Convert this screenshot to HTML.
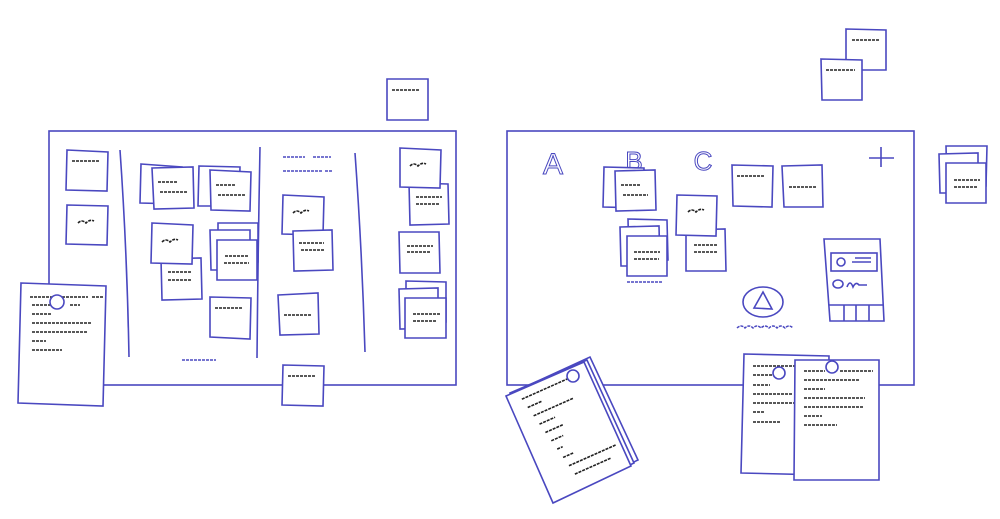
<!DOCTYPE html>
<html><head><meta charset="utf-8"><style>
html,body{margin:0;padding:0;background:#fff;width:1000px;height:519px;overflow:hidden}
svg{display:block}
.b{fill:#fff;stroke:#4a48c0;stroke-width:1.6}
.l{fill:none;stroke:#4a48c0;stroke-width:1.6}
.s{fill:none;stroke:#222;stroke-width:1.6;stroke-dasharray:3 1}
.sb{fill:none;stroke:#4a48c0;stroke-width:1.5;stroke-dasharray:3 1}
</style></head><body>
<svg width="1000" height="519" viewBox="0 0 1000 519" xmlns="http://www.w3.org/2000/svg">
<rect class="b" x="49" y="131" width="407" height="254"/>
<path class="l" d="M120 150 Q127 250 129 357"/>
<path class="l" d="M260 147 Q258 250 257 358"/>
<path class="l" d="M355 153 Q362 250 365 352"/>
<polygon class="b" points="67,150 108,152 107,191 66,190"/><path class="s" d="M72 161 H100"/>
<polygon class="b" points="67,205 108,206 107,245 66,244"/><path class="s" d="M78 223 q4 -4 8 0 q4 -4 8 -2"/>
<polygon class="b" points="141,164 182,167 181,204 140,203"/>
<polygon class="b" points="152,168 193,167 194,208 154,209"/><path class="s" d="M158 182 H178 M160 192 H188"/>
<polygon class="b" points="199,166 240,167 239,206 198,206"/>
<polygon class="b" points="210,170 251,172 250,211 211,210"/><path class="s" d="M216 185 H235 M218 195 H245"/>
<polygon class="b" points="161,259 201,258 202,299 162,300"/><path class="s" d="M168 272 H192 M168 280 H192"/>
<polygon class="b" points="152,223 193,225 192,264 151,263"/><path class="s" d="M162 242 q4 -4 8 0 q4 -4 8 -2"/>
<polygon class="b" points="218,223 258,223 258,262 218,262"/>
<polygon class="b" points="210,230 250,230 250,270 211,270"/>
<polygon class="b" points="217,240 257,240 257,280 217,280"/><path class="s" d="M225 256 H249 M224 263 H249"/>
<polygon class="b" points="210,297 251,298 250,339 210,337"/><path class="s" d="M215 308 H243"/>
<path class="sb" d="M182 360 H216"/>
<path class="sb" d="M283 157 H305 M313 157 H331 M283 171 H322 M325 171 H333"/>
<polygon class="b" points="283,195 324,197 323,235 282,234"/><path class="s" d="M293 213 q4 -4 8 0 q4 -4 8 -2"/>
<polygon class="b" points="293,231 332,230 333,270 294,271"/><path class="s" d="M299 243 H324 M301 250 H324"/>
<polygon class="b" points="278,295 318,293 319,334 280,335"/><path class="s" d="M284 315 H312"/>
<polygon class="b" points="409,183 448,184 449,224 410,225"/><path class="s" d="M416 197 H442 M416 204 H440"/>
<polygon class="b" points="400,148 441,150 440,188 400,187"/><path class="s" d="M410 166 q4 -4 8 0 q4 -4 8 -2"/>
<polygon class="b" points="399,232 439,232 440,273 400,273"/><path class="s" d="M407 246 H433 M407 252 H431"/>
<polygon class="b" points="406,281 446,282 446,322 406,322"/>
<polygon class="b" points="399,289 438,288 438,328 400,329"/>
<polygon class="b" points="405,298 446,298 446,338 405,338"/><path class="s" d="M413 314 H440 M413 321 H437"/>
<polygon class="b" points="283,365 324,366 323,406 282,405"/><path class="s" d="M288 376 H315"/>
<polygon class="b" points="387,79 428,79 428,120 387,120"/><path class="s" d="M392 90 H420"/>
<polygon class="b" points="21,283 106,286 103,406 18,403"/>
<path class="s" d="M30 297 H88 M92 297 H104 M32 305 H60 M70 305 H80 M32 314 H52 M32 323 H92 M32 332 H88 M32 341 H46 M32 350 H62"/>
<circle class="b" cx="57" cy="302" r="7"/>
<rect class="b" x="507" y="131" width="407" height="254"/>
<text x="553" y="174" font-family="Liberation Sans,sans-serif" font-size="30" fill="#fff" stroke="#4a48c0" stroke-width="1" text-anchor="middle">A</text>
<text x="634" y="170" font-family="Liberation Sans,sans-serif" font-size="26" fill="#fff" stroke="#4a48c0" stroke-width="1" text-anchor="middle">B</text>
<text x="703" y="170" font-family="Liberation Sans,sans-serif" font-size="26" fill="#fff" stroke="#4a48c0" stroke-width="1" text-anchor="middle">C</text>
<path class="l" d="M869 158 H894 M881 147 V167"/>
<polygon class="b" points="604,167 644,168 643,208 603,207"/>
<polygon class="b" points="615,171 655,170 656,210 616,211"/><path class="s" d="M621 185 H641 M623 195 H648"/>
<polygon class="b" points="628,219 667,220 668,260 629,260"/>
<polygon class="b" points="620,227 659,226 660,266 621,266"/>
<polygon class="b" points="627,236 667,236 667,276 627,276"/><path class="s" d="M634 252 H660 M634 259 H659"/>
<path class="sb" d="M627 282 H662"/>
<polygon class="b" points="686,230 725,229 726,271 686,271"/><path class="s" d="M694 245 H718 M694 252 H718"/>
<polygon class="b" points="677,195 717,196 716,236 676,235"/><path class="s" d="M688 212 q4 -4 8 0 q4 -4 8 -2"/>
<polygon class="b" points="732,165 773,166 772,207 733,206"/><path class="s" d="M737 176 H765"/>
<polygon class="b" points="782,166 822,165 823,207 784,207"/><path class="s" d="M789 187 H817"/>
<ellipse class="l" cx="763" cy="302" rx="20" ry="15"/>
<polygon class="l" points="763,292 772,309 754,308"/>
<path class="sb" d="M737 328 q4 -4 8 0 q4 -4 8 0 q4 -4 8 0 q4 -4 8 0 q4 -4 8 0 q4 -4 8 0 q4 -4 8 0"/>
<path class="l" d="M824 239 L880 239 L884 321 L830 321 Z"/>
<rect class="l" x="831" y="253" width="46" height="18"/>
<circle class="l" cx="841" cy="262" r="4"/><path class="l" d="M852 262 H871 M855 258 H871"/>
<ellipse class="l" cx="838" cy="284" rx="5" ry="4"/><path class="l" d="M847 287 q3 -8 6 0 q3 -6 6 -2 H867"/>
<path class="l" d="M829 305 H883 M844 305 V321 M856 305 V321 M869 305 V321"/>
<polygon class="b" points="846,29 886,30 886,70 846,70"/><path class="s" d="M852 40 H880"/>
<polygon class="b" points="821,59 862,60 862,100 822,100"/><path class="s" d="M826 70 H855"/>
<polygon class="b" points="946,146 987,146 986,186 947,186"/>
<polygon class="b" points="939,154 978,153 978,193 940,193"/>
<polygon class="b" points="946,163 986,163 986,203 946,203"/><path class="s" d="M954 180 H980 M954 187 H978"/>
<polygon class="b" points="514,392 590,357 638,460 560,497"/>
<polygon class="b" points="510,393 587,360 634,463 557,500"/>
<polygon class="b" points="506,396 584,362 631,466 553,503"/>
<g transform="rotate(-24 520 400)"><path class="s" d="M522 400 H580 M524 410 H540 M526 420 H570 M528 430 H545 M530 440 H550 M532 450 H545 M534 460 H540 M536 470 H548 M538 480 H590 M540 490 H580"/></g>
<circle class="b" cx="573" cy="376" r="6"/>
<polygon class="b" points="744,354 829,356 827,475 741,473"/>
<path class="s" d="M753 366 H800 M753 375 H775 M753 385 H770 M753 394 H792 M753 403 H795 M753 412 H765 M753 422 H780"/>
<circle class="b" cx="779" cy="373" r="6"/>
<polygon class="b" points="795,360 879,360 879,480 794,480"/>
<path class="s" d="M804 371 H825 M840 371 H873 M804 380 H860 M804 389 H825 M804 398 H865 M804 407 H864 M804 416 H822 M804 425 H837"/>
<circle class="b" cx="832" cy="367" r="6"/>
</svg>
</body></html>
